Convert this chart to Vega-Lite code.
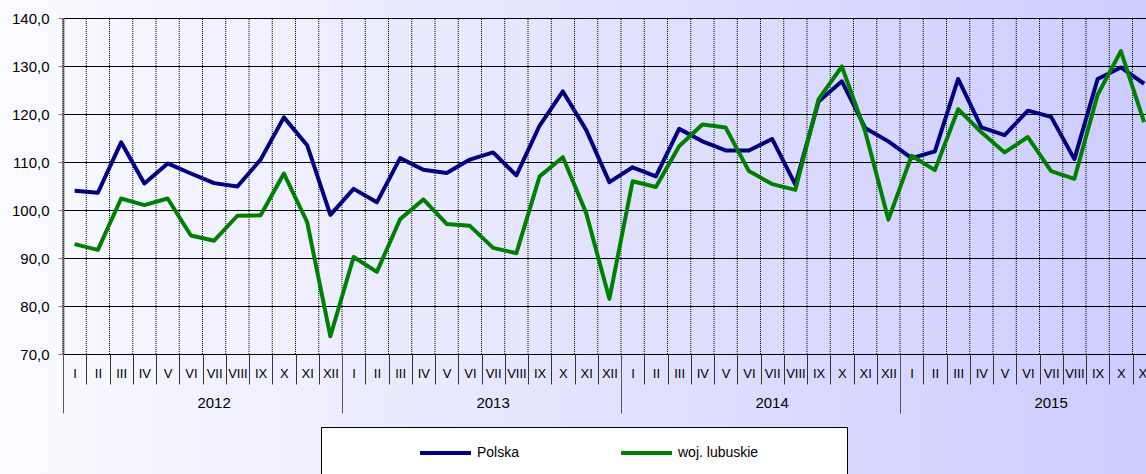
{
  "$schema": "https://vega.github.io/schema/vega-lite/v6.json",
  "width": 1146,
  "height": 474,
  "autosize": "none",
  "padding": 0,
  "background": "#FFFFFF",
  "config": {
    "font": "Liberation Sans",
    "view": {"stroke": null, "fill": {"gradient": "linear", "x1": 0, "y1": 0, "x2": 1, "y2": 0, "stops": [{"offset": 0, "color": "#FBFBFF"}, {"offset": 1, "color": "#CCCCFF"}]}}
  },
  "data": {
    "values": [
      {"i": 0, "s": "Polska", "v": 104.0}, {"i": 1, "s": "Polska", "v": 103.6}, {"i": 2, "s": "Polska", "v": 114.1}, {"i": 3, "s": "Polska", "v": 105.5},
      {"i": 4, "s": "Polska", "v": 109.7}, {"i": 5, "s": "Polska", "v": 107.6}, {"i": 6, "s": "Polska", "v": 105.6}, {"i": 7, "s": "Polska", "v": 104.9},
      {"i": 8, "s": "Polska", "v": 110.5}, {"i": 9, "s": "Polska", "v": 119.3}, {"i": 10, "s": "Polska", "v": 113.5}, {"i": 11, "s": "Polska", "v": 99.0},
      {"i": 12, "s": "Polska", "v": 104.4}, {"i": 13, "s": "Polska", "v": 101.6}, {"i": 14, "s": "Polska", "v": 110.8}, {"i": 15, "s": "Polska", "v": 108.4},
      {"i": 16, "s": "Polska", "v": 107.7}, {"i": 17, "s": "Polska", "v": 110.5}, {"i": 18, "s": "Polska", "v": 112.0}, {"i": 19, "s": "Polska", "v": 107.2},
      {"i": 20, "s": "Polska", "v": 117.6}, {"i": 21, "s": "Polska", "v": 124.7}, {"i": 22, "s": "Polska", "v": 116.7}, {"i": 23, "s": "Polska", "v": 105.8},
      {"i": 24, "s": "Polska", "v": 108.9}, {"i": 25, "s": "Polska", "v": 107.0}, {"i": 26, "s": "Polska", "v": 116.9}, {"i": 27, "s": "Polska", "v": 114.3},
      {"i": 28, "s": "Polska", "v": 112.4}, {"i": 29, "s": "Polska", "v": 112.4}, {"i": 30, "s": "Polska", "v": 114.8}, {"i": 31, "s": "Polska", "v": 105.3},
      {"i": 32, "s": "Polska", "v": 122.6}, {"i": 33, "s": "Polska", "v": 126.8}, {"i": 34, "s": "Polska", "v": 117.1}, {"i": 35, "s": "Polska", "v": 114.3},
      {"i": 36, "s": "Polska", "v": 110.8}, {"i": 37, "s": "Polska", "v": 112.2}, {"i": 38, "s": "Polska", "v": 127.3}, {"i": 39, "s": "Polska", "v": 117.2},
      {"i": 40, "s": "Polska", "v": 115.6}, {"i": 41, "s": "Polska", "v": 120.7}, {"i": 42, "s": "Polska", "v": 119.4}, {"i": 43, "s": "Polska", "v": 110.6},
      {"i": 44, "s": "Polska", "v": 127.3}, {"i": 45, "s": "Polska", "v": 129.7}, {"i": 46, "s": "Polska", "v": 126.3},
      {"i": 0, "s": "woj. lubuskie", "v": 92.9}, {"i": 1, "s": "woj. lubuskie", "v": 91.7}, {"i": 2, "s": "woj. lubuskie", "v": 102.4}, {"i": 3, "s": "woj. lubuskie", "v": 101.0},
      {"i": 4, "s": "woj. lubuskie", "v": 102.4}, {"i": 5, "s": "woj. lubuskie", "v": 94.7}, {"i": 6, "s": "woj. lubuskie", "v": 93.6}, {"i": 7, "s": "woj. lubuskie", "v": 98.8},
      {"i": 8, "s": "woj. lubuskie", "v": 98.9}, {"i": 9, "s": "woj. lubuskie", "v": 107.6}, {"i": 10, "s": "woj. lubuskie", "v": 97.5}, {"i": 11, "s": "woj. lubuskie", "v": 73.7},
      {"i": 12, "s": "woj. lubuskie", "v": 90.2}, {"i": 13, "s": "woj. lubuskie", "v": 87.1}, {"i": 14, "s": "woj. lubuskie", "v": 98.1}, {"i": 15, "s": "woj. lubuskie", "v": 102.2},
      {"i": 16, "s": "woj. lubuskie", "v": 97.1}, {"i": 17, "s": "woj. lubuskie", "v": 96.7}, {"i": 18, "s": "woj. lubuskie", "v": 92.1}, {"i": 19, "s": "woj. lubuskie", "v": 91.0},
      {"i": 20, "s": "woj. lubuskie", "v": 107.0}, {"i": 21, "s": "woj. lubuskie", "v": 111.0}, {"i": 22, "s": "woj. lubuskie", "v": 99.4}, {"i": 23, "s": "woj. lubuskie", "v": 81.5},
      {"i": 24, "s": "woj. lubuskie", "v": 106.0}, {"i": 25, "s": "woj. lubuskie", "v": 104.8}, {"i": 26, "s": "woj. lubuskie", "v": 113.3}, {"i": 27, "s": "woj. lubuskie", "v": 117.8},
      {"i": 28, "s": "woj. lubuskie", "v": 117.2}, {"i": 29, "s": "woj. lubuskie", "v": 108.1}, {"i": 30, "s": "woj. lubuskie", "v": 105.4}, {"i": 31, "s": "woj. lubuskie", "v": 104.2},
      {"i": 32, "s": "woj. lubuskie", "v": 123.1}, {"i": 33, "s": "woj. lubuskie", "v": 129.9}, {"i": 34, "s": "woj. lubuskie", "v": 116.4}, {"i": 35, "s": "woj. lubuskie", "v": 98.0},
      {"i": 36, "s": "woj. lubuskie", "v": 111.3}, {"i": 37, "s": "woj. lubuskie", "v": 108.3}, {"i": 38, "s": "woj. lubuskie", "v": 121.0}, {"i": 39, "s": "woj. lubuskie", "v": 116.2},
      {"i": 40, "s": "woj. lubuskie", "v": 112.0}, {"i": 41, "s": "woj. lubuskie", "v": 115.2}, {"i": 42, "s": "woj. lubuskie", "v": 108.1}, {"i": 43, "s": "woj. lubuskie", "v": 106.5},
      {"i": 44, "s": "woj. lubuskie", "v": 124.0}, {"i": 45, "s": "woj. lubuskie", "v": 133.1}, {"i": 46, "s": "woj. lubuskie", "v": 118.3}
    ]
  },
  "layer": [
    {
      "transform": [{"filter": "datum.s == 'Polska'"}],
      "mark": {"type": "rule", "strokeDash": [1, 1], "color": "#000000", "strokeWidth": 1},
      "encoding": {
        "x": {"field": "i", "type": "ordinal", "bandPosition": 0, "axis": null},
        "y": {"datum": 70, "type": "quantitative"},
        "y2": {"datum": 140}
      }
    },
    {
      "mark": {"type": "line", "strokeWidth": 4, "clip": true, "strokeJoin": "round"},
      "encoding": {
        "x": {
          "field": "i", "type": "ordinal",
          "scale": {"domain": [0,1,2,3,4,5,6,7,8,9,10,11,12,13,14,15,16,17,18,19,20,21,22,23,24,25,26,27,28,29,30,31,32,33,34,35,36,37,38,39,40,41,42,43,44,45,46,47], "range": [63, 1179], "paddingInner": 0, "paddingOuter": 0},
          "axis": {
            "title": null, "orient": "bottom", "offset": -120, "tickBand": "extent", "grid": false,
            "domain": false, "ticks": true, "tickSize": 30, "tickColor": "#333333", "tickWidth": 1,
            "labelExpr": "['I','II','III','IV','V','VI','VII','VIII','IX','X','XI','XII'][datum.value % 12]",
            "labelFontSize": 13, "labelColor": "#000000", "labelBaseline": "middle", "labelPadding": -10.5, "labelAngle": 0, "labelOverlap": false, "labelBound": false, "labelFlush": false
          }
        },
        "y": {
          "field": "v", "type": "quantitative",
          "scale": {"domain": [70, 140], "range": [354, 18], "nice": false, "zero": false},
          "axis": {
            "title": null, "orient": "left", "offset": -63, "values": [70, 80, 90, 100, 110, 120, 130, 140], "grid": true, "gridColor": "#000000", "gridWidth": 1, "gridOpacity": 1,
            "domain": true, "domainColor": "#808080", "domainWidth": 2, "tickSize": 5, "tickColor": "#808080",
            "labelExpr": "replace(format(datum.value, '.1f'), '.', ',')", "labelFontSize": 15, "labelColor": "#000000", "labelPadding": 9
          }
        },
        "color": {
          "field": "s", "type": "nominal",
          "scale": {"domain": ["Polska", "woj. lubuskie"], "range": ["#000080", "#008000"]},
          "legend": {
            "title": null, "orient": "none", "legendX": 321, "legendY": 427, "direction": "horizontal",
            "strokeColor": "#000000", "fillColor": "#FFFFFF", "padding": 18, "clipHeight": 16,
            "symbolType": "stroke", "symbolStrokeWidth": 4, "symbolSize": 2601, "symbolOffset": 79,
            "labelFontSize": 14, "labelColor": "#000000", "labelOffset": 4, "columnPadding": 20, "labelLimit": 400,
            "labelExpr": "indexof(datum.label, 'lubuskie') >= 0 ? datum.label + '\u2003\u2003\u2003\u2003\u2003\u200B' : datum.label"
          }
        }
      }
    },
    {
      "mark": {"type": "line", "opacity": 0},
      "encoding": {
        "x": {
          "field": "i", "type": "ordinal",
          "axis": {
            "title": null, "orient": "bottom", "offset": -120, "values": [0, 12, 24, 36], "bandPosition": 0, "grid": false, "domain": false,
            "tickSize": 59, "tickColor": "#555555", "tickWidth": 1, "labelOffset": 139.5,
            "labelExpr": "'' + (2012 + floor(datum.value / 12))", "labelFontSize": 15, "labelColor": "#000000",
            "labelBaseline": "middle", "labelPadding": -11, "labelAngle": 0, "labelBound": false, "labelFlush": false
          }
        },
        "y": {"field": "v", "type": "quantitative"},
        "detail": {"field": "s"}
      }
    }
  ],
  "resolve": {"axis": {"x": "independent"}}
}
